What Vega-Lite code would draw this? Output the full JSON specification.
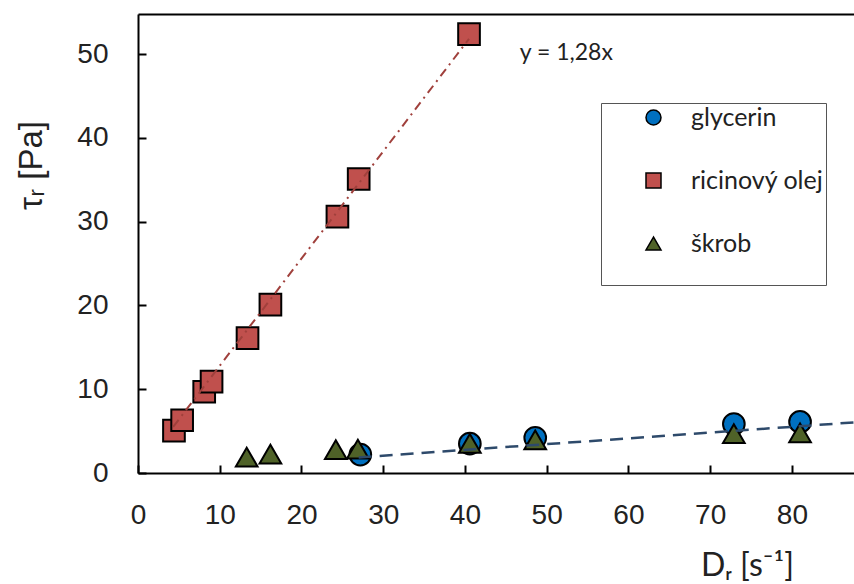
{
  "$schema": "https://vega.github.io/schema/vega-lite/v6.json",
  "width": 716,
  "height": 459,
  "autosize": "none",
  "padding": {"left": 138, "top": 14, "right": 0, "bottom": 111},
  "background": "white",
  "config": {"view": {"stroke": null}, "axis": {"grid": false}},
  "datasets": {
    "points": [
      {"series": "glycerin", "D": 27.2, "tau": 2.2},
      {"series": "glycerin", "D": 40.6, "tau": 3.5},
      {"series": "glycerin", "D": 48.6, "tau": 4.2},
      {"series": "glycerin", "D": 72.9, "tau": 5.85},
      {"series": "glycerin", "D": 81.0, "tau": 6.1},
      {"series": "ricinový olej", "D": 4.4, "tau": 5.05},
      {"series": "ricinový olej", "D": 5.4, "tau": 6.3},
      {"series": "ricinový olej", "D": 8.1, "tau": 9.7},
      {"series": "ricinový olej", "D": 9.0, "tau": 10.9},
      {"series": "ricinový olej", "D": 13.4, "tau": 16.1},
      {"series": "ricinový olej", "D": 16.2, "tau": 20.1},
      {"series": "ricinový olej", "D": 24.4, "tau": 30.6},
      {"series": "ricinový olej", "D": 27.0, "tau": 35.1},
      {"series": "ricinový olej", "D": 40.5, "tau": 52.4},
      {"series": "škrob", "D": 13.3, "tau": 1.9},
      {"series": "škrob", "D": 16.2, "tau": 2.25},
      {"series": "škrob", "D": 24.2, "tau": 2.8},
      {"series": "škrob", "D": 26.9, "tau": 2.85},
      {"series": "škrob", "D": 40.6, "tau": 3.55},
      {"series": "škrob", "D": 48.6, "tau": 3.95},
      {"series": "škrob", "D": 72.9, "tau": 4.7},
      {"series": "škrob", "D": 81.0, "tau": 4.8}
    ],
    "fits": [
      {"fit": "ricin", "D": 4.3, "tau": 5.5},
      {"fit": "ricin", "D": 40.5, "tau": 51.84},
      {"fit": "glyc", "D": 27.0, "tau": 1.86},
      {"fit": "glyc", "D": 87.6, "tau": 6.04}
    ],
    "notes": [
      {"label": "y = 1,28x", "D": 52.4, "tau": 50.2}
    ]
  },
  "resolve": {"axis": {"x": "independent"}},
  "layer": [
    {
      "data": {"name": "points"},
      "mark": {"type": "point", "filled": true, "stroke": "black", "strokeWidth": 2, "opacity": 1, "size": 470},
      "encoding": {
        "x": {
          "field": "D", "type": "quantitative",
          "scale": {"domain": [0, 87.6], "nice": false, "zero": false},
          "axis": {
            "values": [0, 10, 20, 30, 40, 50, 60, 70, 80],
            "tickSize": -8, "tickWidth": 2, "tickColor": "black",
            "domainColor": "black", "domainWidth": 2,
            "labelFont": "Liberation Sans", "labelFontSize": 28, "labelColor": "#222",
            "labelPadding": 36, "labelFlush": false,
            "title": "Dᵣ [s⁻¹]", "titleFont": "Lato", "titleFontSize": 32,
            "titleFontWeight": "normal", "titleColor": "#222",
            "titleX": 609, "titleY": 92, "titleAlign": "center", "titleBaseline": "middle"
          }
        },
        "y": {
          "field": "tau", "type": "quantitative",
          "scale": {"domain": [0, 54.8], "nice": false, "zero": false},
          "axis": {
            "values": [0, 10, 20, 30, 40, 50],
            "tickSize": -8, "tickWidth": 2, "tickColor": "black",
            "domainColor": "black", "domainWidth": 2,
            "labelFont": "Liberation Sans", "labelFontSize": 28, "labelColor": "#222",
            "labelPadding": 38, "labelFlush": false,
            "title": "τᵣ [Pa]", "titleFont": "Liberation Sans", "titleFontSize": 33,
            "titleFontWeight": "normal", "titleColor": "#222",
            "titleX": -107, "titleY": 151, "titleAngle": -90,
            "titleAlign": "center", "titleBaseline": "middle"
          }
        },
        "color": {
          "field": "series", "type": "nominal",
          "scale": {"domain": ["glycerin", "ricinový olej", "škrob"], "range": ["#0070C0", "#C0504D", "#4F6228"]},
          "legend": {
            "orient": "none", "legendX": 463, "legendY": 89,
            "title": " ", "titleOrient": "bottom", "titleFontSize": 27, "titlePadding": 0,
            "padding": 2, "strokeColor": "#555", "fillColor": "white",
            "rowPadding": 37, "symbolOffset": 38, "labelOffset": 25,
            "labelFont": "Lato", "labelFontSize": 25, "labelColor": "#222",
            "symbolSize": 225,
            "encode": {"symbols": {"update": {"stroke": {"value": "#333"}, "strokeWidth": {"value": 1}}}}
          }
        },
        "shape": {
          "field": "series", "type": "nominal",
          "scale": {"domain": ["glycerin", "ricinový olej", "škrob"], "range": ["circle", "square", "triangle-up"]}
        }
      }
    },
    {
      "data": {"name": "fits"},
      "transform": [{"filter": "datum.fit === 'ricin'"}],
      "mark": {"type": "line", "color": "#A0403C", "strokeWidth": 2, "strokeDash": [9, 5, 2, 5]},
      "encoding": {
        "x": {"field": "D", "type": "quantitative", "axis": null},
        "y": {"field": "tau", "type": "quantitative"}
      }
    },
    {
      "data": {"name": "fits"},
      "transform": [{"filter": "datum.fit === 'glyc'"}],
      "mark": {"type": "line", "color": "#2E4A6B", "strokeWidth": 2.5, "strokeDash": [13, 8]},
      "encoding": {
        "x": {"field": "D", "type": "quantitative", "axis": null},
        "y": {"field": "tau", "type": "quantitative"}
      }
    },
    {
      "data": {"name": "notes"},
      "mark": {"type": "text", "font": "Lato", "fontSize": 23, "color": "#222", "align": "center", "baseline": "middle"},
      "encoding": {
        "x": {
          "field": "D", "type": "quantitative",
          "axis": {"orient": "top", "labels": false, "ticks": false, "domainColor": "black", "domainWidth": 2, "title": null}
        },
        "y": {"field": "tau", "type": "quantitative"},
        "text": {"field": "label"}
      }
    }
  ]
}
